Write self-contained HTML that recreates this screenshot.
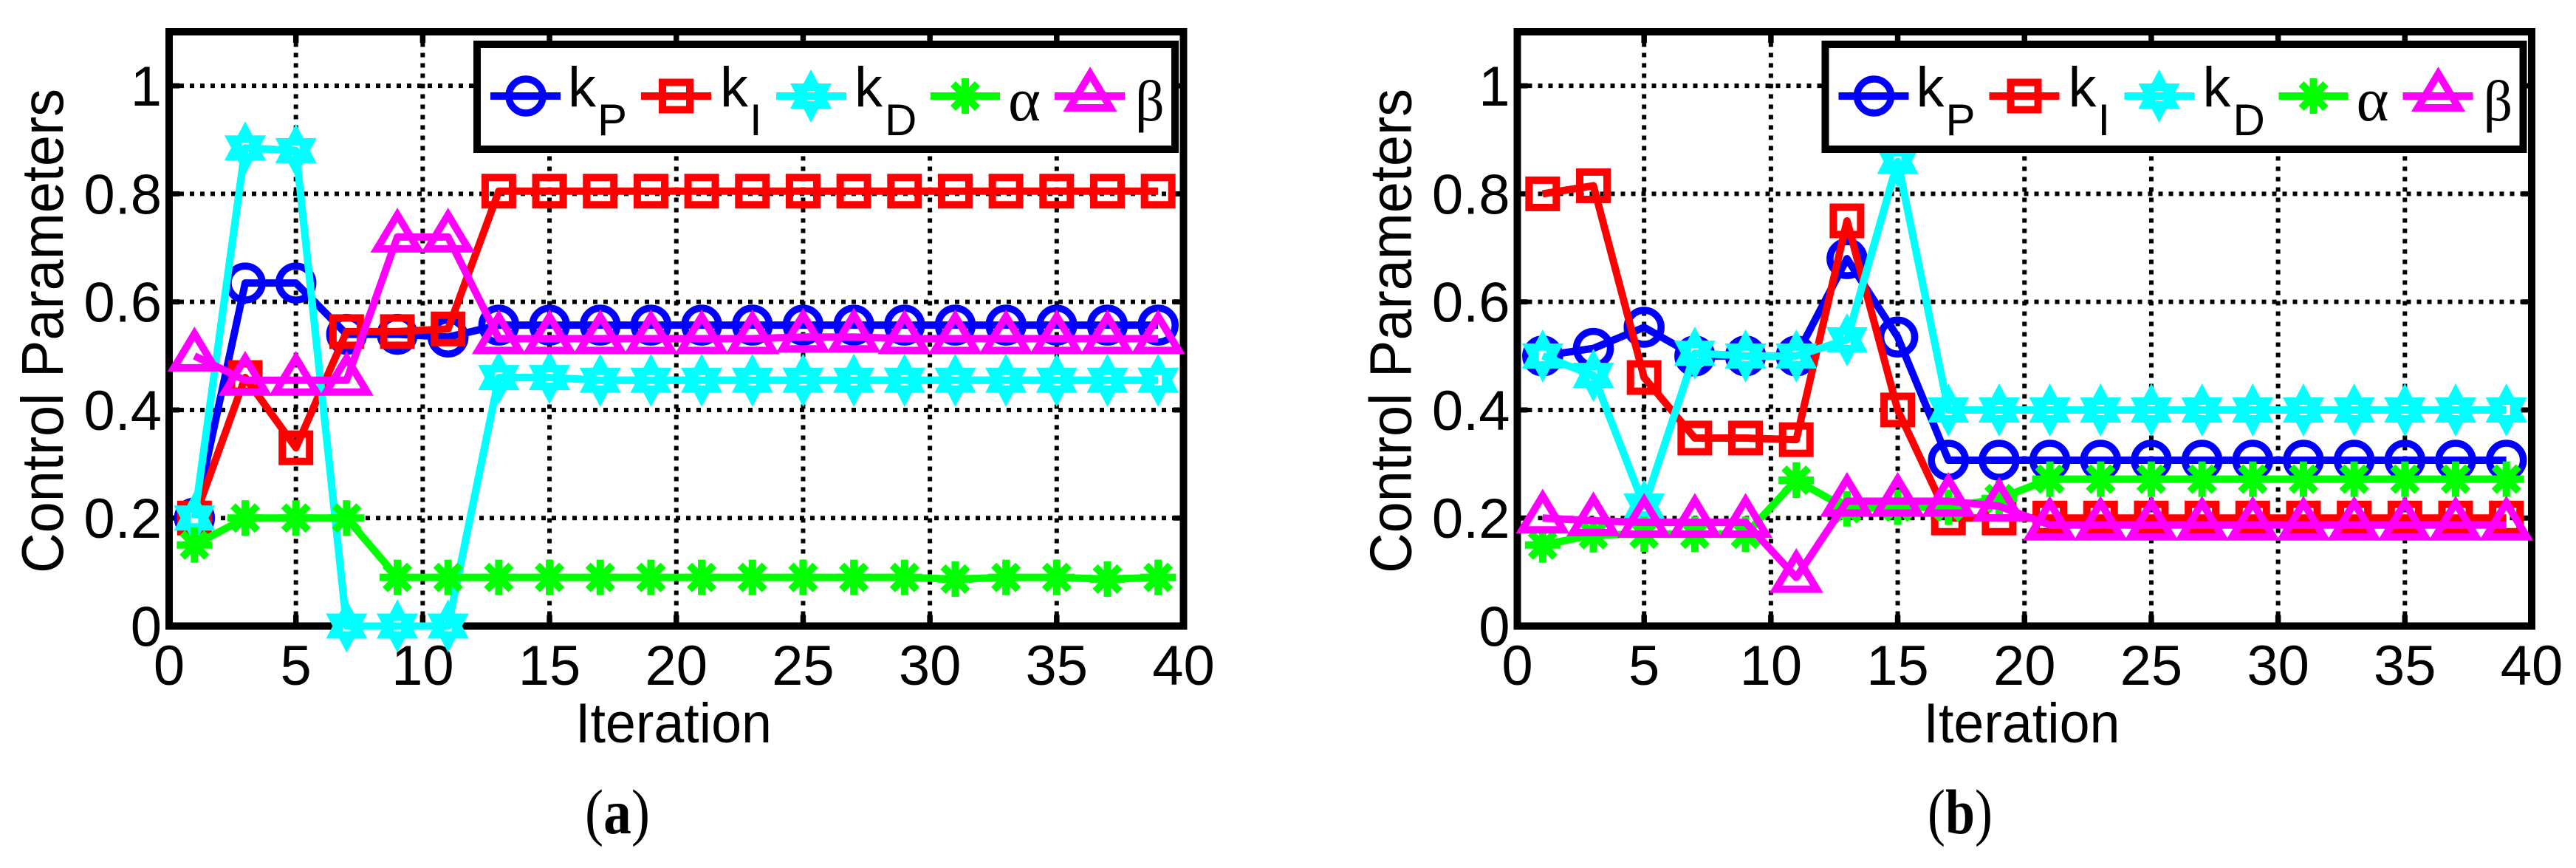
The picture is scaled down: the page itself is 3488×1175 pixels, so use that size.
<!DOCTYPE html>
<html lang="en">
<head>
<meta charset="utf-8">
<title>Control Parameters vs Iteration</title>
<style>
html,body{margin:0;padding:0;background:#fff;}
svg{display:block;}
text{font-family:"Liberation Sans",sans-serif;fill:#000;}
</style>
</head>
<body>
<svg id="figure" xmlns="http://www.w3.org/2000/svg" width="3488" height="1175" viewBox="0 0 3488 1175"></svg>
<script>
const iterations = [1,3,5,7,9,11,13,15,17,19,21,23,25,27,29,31,33,35,37,39];

const aKp    = [0.20,0.635,0.635,0.54,0.54,0.535,0.557,0.557,0.557,0.557,0.557,0.557,0.557,0.557,0.557,0.557,0.557,0.557,0.557,0.557];
const aKi    = [0.20,0.46,0.33,0.545,0.545,0.55,0.805,0.805,0.805,0.805,0.805,0.805,0.805,0.805,0.805,0.805,0.805,0.805,0.805,0.805];
const aKd    = [0.20,0.885,0.88,0,0,0,0.46,0.46,0.455,0.455,0.455,0.455,0.455,0.455,0.455,0.455,0.455,0.455,0.455,0.455];
const aAlpha = [0.15,0.20,0.20,0.20,0.09,0.09,0.09,0.09,0.09,0.09,0.09,0.09,0.09,0.09,0.09,0.087,0.09,0.09,0.087,0.09];
const aBeta  = [0.50,0.455,0.455,0.455,0.72,0.72,0.532,0.532,0.532,0.532,0.532,0.532,0.535,0.535,0.532,0.532,0.532,0.532,0.532,0.532];

const bKp    = [0.50,0.514,0.553,0.50,0.50,0.50,0.68,0.535,0.307,0.307,0.307,0.307,0.307,0.307,0.307,0.307,0.307,0.307,0.307,0.307];
const bKi    = [0.80,0.815,0.46,0.348,0.348,0.345,0.75,0.40,0.20,0.20,0.20,0.20,0.20,0.20,0.20,0.20,0.20,0.20,0.20,0.20];
const bKd    = [0.50,0.464,0.222,0.505,0.50,0.50,0.53,0.86,0.40,0.40,0.40,0.40,0.40,0.40,0.40,0.40,0.40,0.40,0.40,0.40];
const bAlpha = [0.15,0.169,0.17,0.17,0.17,0.27,0.217,0.22,0.22,0.236,0.272,0.272,0.272,0.272,0.272,0.272,0.272,0.272,0.272,0.272];
const bBeta  = [0.20,0.195,0.192,0.192,0.192,0.09,0.231,0.231,0.231,0.222,0.187,0.187,0.187,0.187,0.187,0.187,0.187,0.187,0.187,0.187];

const xTickValues = [0,5,10,15,20,25,30,35,40];
const xTickLabels = ["0","5","10","15","20","25","30","35","40"];
const yTickValues = [0,0.2,0.4,0.6,0.8,1];
const yTickLabels = ["0","0.2","0.4","0.6","0.8","1"];

const svg = document.getElementById('figure');
const NS = 'http://www.w3.org/2000/svg';

function mk(parent, tag, attrs, txt) {
  const n = document.createElementNS(NS, tag);
  for (const k in attrs) n.setAttribute(k, attrs[k]);
  if (txt !== undefined) n.textContent = txt;
  parent.appendChild(n);
  return n;
}

const COLORS = {kp:'#0000ff', ki:'#ff0000', kd:'#00ffff', alpha:'#00ff00', beta:'#ff00ff'};

function drawMarker(g, kind, cx, cy, name) {
  let el;
  if (kind === 'kp') {
    el = mk(g, 'circle', {cx:cx, cy:cy, r:23, fill:'none', stroke:COLORS.kp, 'stroke-width':9.5});
  } else if (kind === 'ki') {
    el = mk(g, 'rect', {x:cx-18.5, y:cy-18.5, width:37, height:37, fill:'none', stroke:COLORS.ki, 'stroke-width':10});
  } else if (kind === 'kd') {
    const d = 'M'+cx+' '+(cy-36)+'L'+(cx+28)+' '+(cy+17)+'L'+(cx-28)+' '+(cy+17)+'Z'+
              'M'+cx+' '+(cy+36)+'L'+(cx-28)+' '+(cy-17)+'L'+(cx+28)+' '+(cy-17)+'Z';
    el = mk(g, 'path', {d:d, fill:COLORS.kd, stroke:'none'});
    const hole = mk(g, 'rect', {x:cx-5, y:cy-7, width:10, height:14, fill:'#ffffff'});
    
    
  } else if (kind === 'alpha') {
    const d = 'M'+(cx-24)+' '+cy+'H'+(cx+24)+'M'+cx+' '+(cy-24)+'V'+(cy+24)+
              'M'+(cx-16.5)+' '+(cy-16.5)+'L'+(cx+16.5)+' '+(cy+16.5)+
              'M'+(cx-16.5)+' '+(cy+16.5)+'L'+(cx+16.5)+' '+(cy-16.5);
    el = mk(g, 'path', {d:d, fill:'none', stroke:COLORS.alpha, 'stroke-width':10});
  } else {
    const d = 'M'+cx+' '+(cy-30)+'L'+(cx+27.7)+' '+(cy+16)+'L'+(cx-27.7)+' '+(cy+16)+'Z';
    el = mk(g, 'path', {d:d, fill:'none', stroke:COLORS.beta, 'stroke-width':10, 'stroke-miterlimit':10, 'stroke-linejoin':'miter'});
  }
  
  
}

function drawPanel(panelName, x0, seriesList, captionText, captionX) {
  const xRight = x0 + 1373.5, yBottom = 847.5, yTop = 43;
  const xScale = v => x0 + v / 40 * (xRight - x0);
  const yScale = v => yBottom - v / 1.1 * (yBottom - yTop);
  const dx = x0 - 229;

  const panel = mk(svg, 'g', {});
  
  

  // gridlines
  xTickValues.forEach((v) => {
    if (v === 0 || v === 40) return;
    const l = mk(panel, 'line', {x1:xScale(v), x2:xScale(v), y1:yBottom, y2:yTop, stroke:'#000', 'stroke-width':6, 'stroke-dasharray':'6 8'});
    
    
  });
  yTickValues.forEach((v) => {
    if (v === 0) return;
    const l = mk(panel, 'line', {x1:x0, x2:xRight, y1:yScale(v), y2:yScale(v), stroke:'#000', 'stroke-width':6, 'stroke-dasharray':'6 8'});
    
    
  });

  // ticks
  xTickValues.forEach((v) => {
    const t1 = mk(panel, 'line', {x1:xScale(v), x2:xScale(v), y1:yBottom, y2:yBottom-15, stroke:'#000', 'stroke-width':7.5});
    
    
    const t2 = mk(panel, 'line', {x1:xScale(v), x2:xScale(v), y1:yTop, y2:yTop+15, stroke:'#000', 'stroke-width':7.5});
    
    
  });
  yTickValues.forEach((v) => {
    const t1 = mk(panel, 'line', {x1:x0, x2:x0+14, y1:yScale(v), y2:yScale(v), stroke:'#000', 'stroke-width':7});
    
    
    const t2 = mk(panel, 'line', {x1:xRight, x2:xRight-14, y1:yScale(v), y2:yScale(v), stroke:'#000', 'stroke-width':7});
    
    
  });

  // axes box
  const box = mk(panel, 'rect', {x:x0, y:yTop, width:xRight-x0, height:yBottom-yTop, fill:'none', stroke:'#000', 'stroke-width':10});
  
  

  // tick labels
  xTickValues.forEach((v, i) => {
    const t = mk(panel, 'text', {x:xScale(v), y:927, 'font-size':76, 'text-anchor':'middle'}, xTickLabels[i]);
    
    
  });
  yTickValues.forEach((v, i) => {
    const t = mk(panel, 'text', {x:x0-10, y:yScale(v)+27, 'font-size':76, 'text-anchor':'end'}, yTickLabels[i]);
    
    
  });

  // axis titles
  const xt = mk(panel, 'text', {x:912+dx, y:1005, 'font-size':76, 'text-anchor':'middle', textLength:266, lengthAdjust:'spacingAndGlyphs'}, 'Iteration');
  
  
  const yt = mk(panel, 'text', {transform:'translate('+(85+dx)+',448) rotate(-90)', 'font-size':80, 'text-anchor':'middle', textLength:656, lengthAdjust:'spacingAndGlyphs'}, 'Control Parameters');
  
  

  // series
  seriesList.forEach((s) => {
    const g = mk(panel, 'g', {});
    
    
    const pts = iterations.map((it, i) => xScale(it) + ',' + yScale(s.values[i])).join(' ');
    const line = mk(g, 'polyline', {points:pts, fill:'none', stroke:COLORS[s.kind], 'stroke-width':10, 'stroke-linejoin':'round'});
    
    
    iterations.forEach((it, i) => {
      drawMarker(g, s.kind, xScale(it), yScale(s.values[i]), 'marker-' + s.kind);
    });
    if (s.kind === 'kd') {
      const over = mk(g, 'polyline', {points:pts, fill:'none', stroke:COLORS[s.kind], 'stroke-width':10, 'stroke-linejoin':'round'});
      
      
    }
  });

  // legend
  const lg = mk(panel, 'g', {transform:'translate('+dx+',0)'});
  
  
  const lb = mk(lg, 'rect', {x:646, y:60, width:945, height:142, fill:'#fff', stroke:'#000', 'stroke-width':10});
  
  

  const legendKinds = [
    {kind:'kp', x1:664, x2:759, cx:712},
    {kind:'ki', x1:868, x2:963, cx:915.5},
    {kind:'kd', x1:1051, x2:1146, cx:1098},
    {kind:'alpha', x1:1260, x2:1354, cx:1307},
    {kind:'beta', x1:1428, x2:1523, cx:1476}
  ];
  legendKinds.forEach((e) => {
    const g = mk(lg, 'g', {});
    
    
    drawMarker(g, e.kind, e.cx, 130, 'legend-marker');
    const l = mk(g, 'line', {x1:e.x1, x2:e.x2, y1:130, y2:130, stroke:COLORS[e.kind], 'stroke-width':10});
    
    
  });

  const legendTexts = [
    {s:'k', x:769, y:144, size:76, fam:'"Liberation Sans",sans-serif'},
    {s:'P', x:809, y:183, size:60, fam:'"Liberation Sans",sans-serif'},
    {s:'k', x:975, y:144, size:76, fam:'"Liberation Sans",sans-serif'},
    {s:'I', x:1015, y:183, size:60, fam:'"Liberation Sans",sans-serif'},
    {s:'k', x:1157, y:144, size:76, fam:'"Liberation Sans",sans-serif'},
    {s:'D', x:1198, y:183, size:60, fam:'"Liberation Sans",sans-serif'},
    {s:'α', x:1365, y:163, size:84, fam:'"Liberation Serif",serif'},
    {s:'β', x:1537, y:163, size:78, fam:'"Liberation Serif",serif'}
  ];
  legendTexts.forEach((e) => {
    const t = mk(lg, 'text', {x:e.x, y:e.y, 'font-size':e.size, style:'font-family:' + e.fam}, e.s);
    
    
  });

  // caption
  const cap = mk(panel, 'text', {x:captionX, y:1128, 'font-size':86, 'text-anchor':'middle', textLength:88, lengthAdjust:'spacingAndGlyphs', style:'font-family:"Liberation Serif",serif'});
  
  
  mk(cap, 'tspan', {}, '(');
  mk(cap, 'tspan', {'font-weight':'bold'}, captionText);
  mk(cap, 'tspan', {}, ')');
}

drawPanel('panel-a', 229, [
  {kind:'kp', values:aKp},
  {kind:'ki', values:aKi},
  {kind:'kd', values:aKd},
  {kind:'alpha', values:aAlpha},
  {kind:'beta', values:aBeta}
], 'a', 836);

drawPanel('panel-b', 2054.5, [
  {kind:'kp', values:bKp},
  {kind:'ki', values:bKi},
  {kind:'kd', values:bKd},
  {kind:'alpha', values:bAlpha},
  {kind:'beta', values:bBeta}
], 'b', 2654);
</script>
</body>
</html>
